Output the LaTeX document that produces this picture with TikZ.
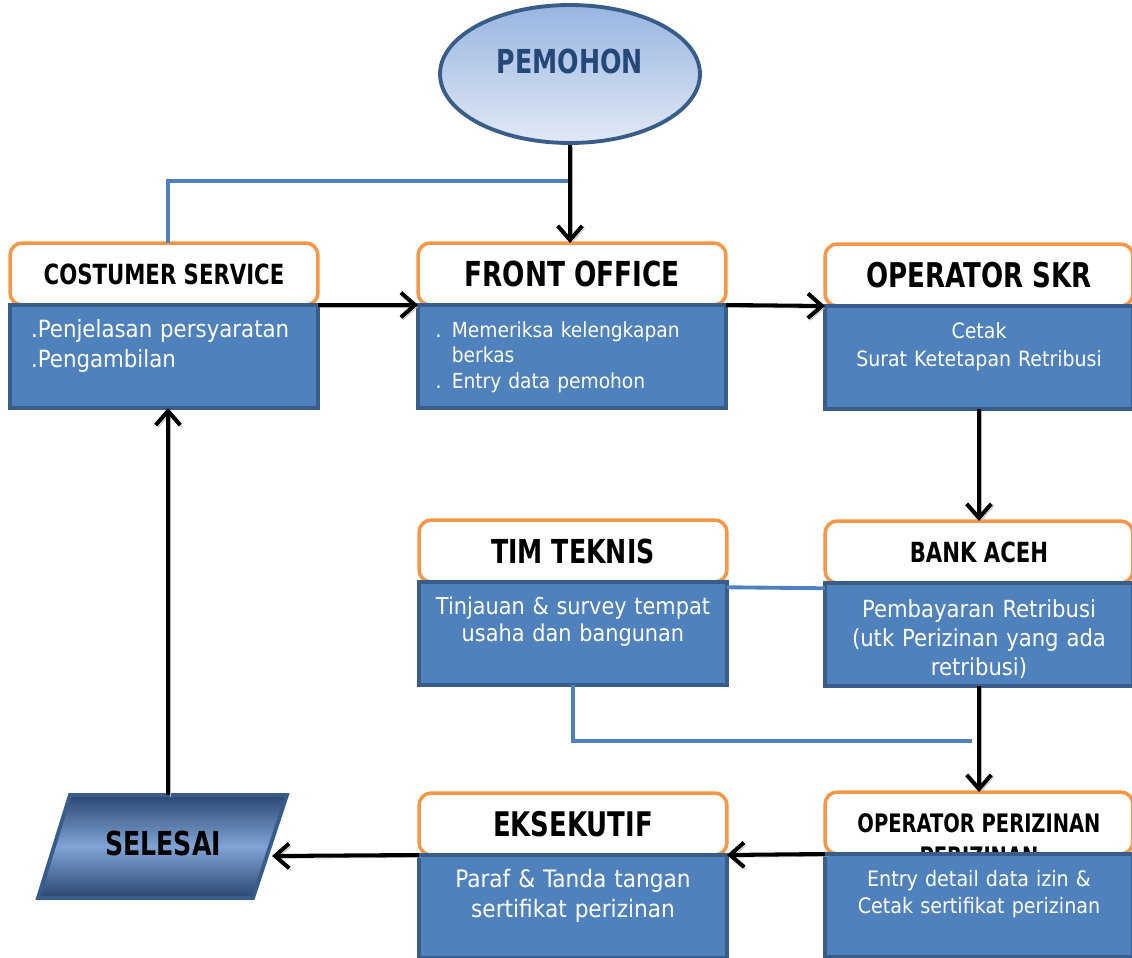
\documentclass[tikz,border=0pt]{standalone}
\usepackage{fontspec}
\setmainfont{DejaVu Sans Condensed}[BoldFeatures={FakeStretch=0.85}]
\usetikzlibrary{positioning,shapes.geometric,arrows.meta}

\definecolor{hdrline}{HTML}{F79646}
\definecolor{bodyfill}{HTML}{4F81BD}
\definecolor{bodyline}{HTML}{385D8A}
\definecolor{bluelink}{HTML}{4F81BD}
\definecolor{pemtop}{HTML}{98B5E0}
\definecolor{pembot}{HTML}{E2E9F6}
\definecolor{pemtext}{HTML}{244878}
\definecolor{seldark}{HTML}{2A4770}
\definecolor{sellight}{HTML}{80A4D6}

\newcommand\hsz[1]{\fontsize{#1}{#1}\selectfont\bfseries}
\newcommand\bsz[2]{\fontsize{#1}{#2}\selectfont}

\tikzset{
  hdr/.style={draw=hdrline, line width=2pt, rounded corners=7pt, fill=white,
    minimum width=6.16cm, minimum height=1.24cm, outer sep=0pt},
  bodybox/.style={draw=bodyline, fill=bodyfill, line width=2.2pt, text=white,
    minimum width=6.16cm, minimum height=2.06cm, inner xsep=0.28cm, inner ysep=0pt,
    text width=5.6cm, align=center, text height=18pt, text depth=40pt, outer sep=0pt},
  arr/.style={-{Straight Barb[length=8pt,width=14pt]}, line width=2.3pt, black,
    preaction={draw=black!30, transform canvas={shift={(1.3pt,-1.3pt)}}}},
  bline/.style={draw=bluelink, line width=2.2pt}
}

\begin{document}
\begin{tikzpicture}[x=0.02cm,y=-0.02cm]
\useasboundingbox (0,0) rectangle (1132,957);

% start
\node[ellipse, draw=bodyline, line width=2.2pt, top color=pemtop, bottom color=pembot,
  minimum width=5.2cm, minimum height=2.76cm] (pem) at (570,74) {};
\node[text=pemtext, font=\hsz{18.8}] (pemt) at (570,61) {PEMOHON};

% headers
\node[hdr, font=\hsz{15.8}] (cs) at (164,274) {COSTUMER SERVICE};
\node[hdr, font=\hsz{19.6}] (fo) at (572,274) {FRONT OFFICE};
\node[hdr, font=\hsz{19.4}] (skr) at (979,275) {OPERATOR SKR};
\node[hdr, font=\hsz{18.8}] (tim) at (573,551) {TIM TEKNIS};
\node[hdr, font=\hsz{15.8}] (bank) at (979,552) {BANK ACEH};
\node[hdr, font=\hsz{19.3}] (eks) at (573,824) {EKSEKUTIF};
\node[hdr, font=\hsz{14.5}] (opz) at (979,823) {OPERATOR PERIZINAN};
\node[font=\hsz{14.5}, inner sep=0pt] (opz2) at (979,856) {PERIZINAN};

% bodies
\node[bodybox, below=0pt of cs, align=left, font=\bsz{13.5}{17}] (csb)
  {\hspace*{4pt}.Penjelasan persyaratan\\\hspace*{4pt}.Pengambilan};
\node[bodybox, below=0pt of fo, align=left, font=\bsz{11.8}{14.7}] (fob)
  {\hspace*{2pt}. Memeriksa kelengkapan\\\hspace*{2pt}\phantom{. }berkas\\\hspace*{2pt}. Entry data pemohon};
\node[bodybox, below=0pt of skr, font=\bsz{12}{16}] (skrb)
  {Cetak\\Surat Ketetapan Retribusi};
\node[bodybox, below=0pt of tim, font=\bsz{13.2}{15.5}] (timb)
  {Tinjauan \& survey tempat\\usaha dan bangunan};
\node[bodybox, below=0pt of bank, font=\bsz{13.4}{16.5}, text height=19.5pt, text depth=38.5pt] (bankb)
  {Pembayaran Retribusi\\(utk Perizinan yang ada\\retribusi)};
\node[bodybox, below=0pt of eks, font=\bsz{13.7}{17}] (eksb)
  {Paraf \& Tanda tangan\\sertifikat perizinan};
\node[bodybox, below=0pt of opz, font=\bsz{12.1}{15.5}] (opzb)
  {Entry detail data izin \&\\Cetak sertifikat perizinan};

% end
\draw[draw=bodyline, line width=2.2pt, top color=seldark, bottom color=seldark, middle color=sellight]
  (70,795) -- (287,795) -- (253,898) -- (38,898) -- cycle;
\node[font=\hsz{18.8}] (sel) at (163,843) {SELESAI};
\coordinate (selN) at (168,795);
\coordinate (selE) at (272,856);
\coordinate (pj) at (570,181);
\coordinate (tj) at (972,741);

% blue links
\draw[bline] (selN |- cs.north) |- (pj);
\draw[bline] ([yshift=-3pt]timb.north east) -- ([yshift=-3pt]bankb.north west);
\draw[bline] (timb.south) |- (tj);

% flow
\draw[arr] (pem.south) -- (pem.south |- fo.north);
\draw[arr] (cs.south east) -- (fo.south west);
\draw[arr] (fo.south east) -- (skr.south west);
\draw[arr] (skrb.south) -- (bank.north);
\draw[arr] (bankb.south) -- (opz.north);
\draw[arr] (opz.south west) -- (eks.south east);
\draw[arr] (eks.south west) -- (selE);
\draw[arr] (selN) -- (selN |- csb.south);
\end{tikzpicture}
\end{document}
